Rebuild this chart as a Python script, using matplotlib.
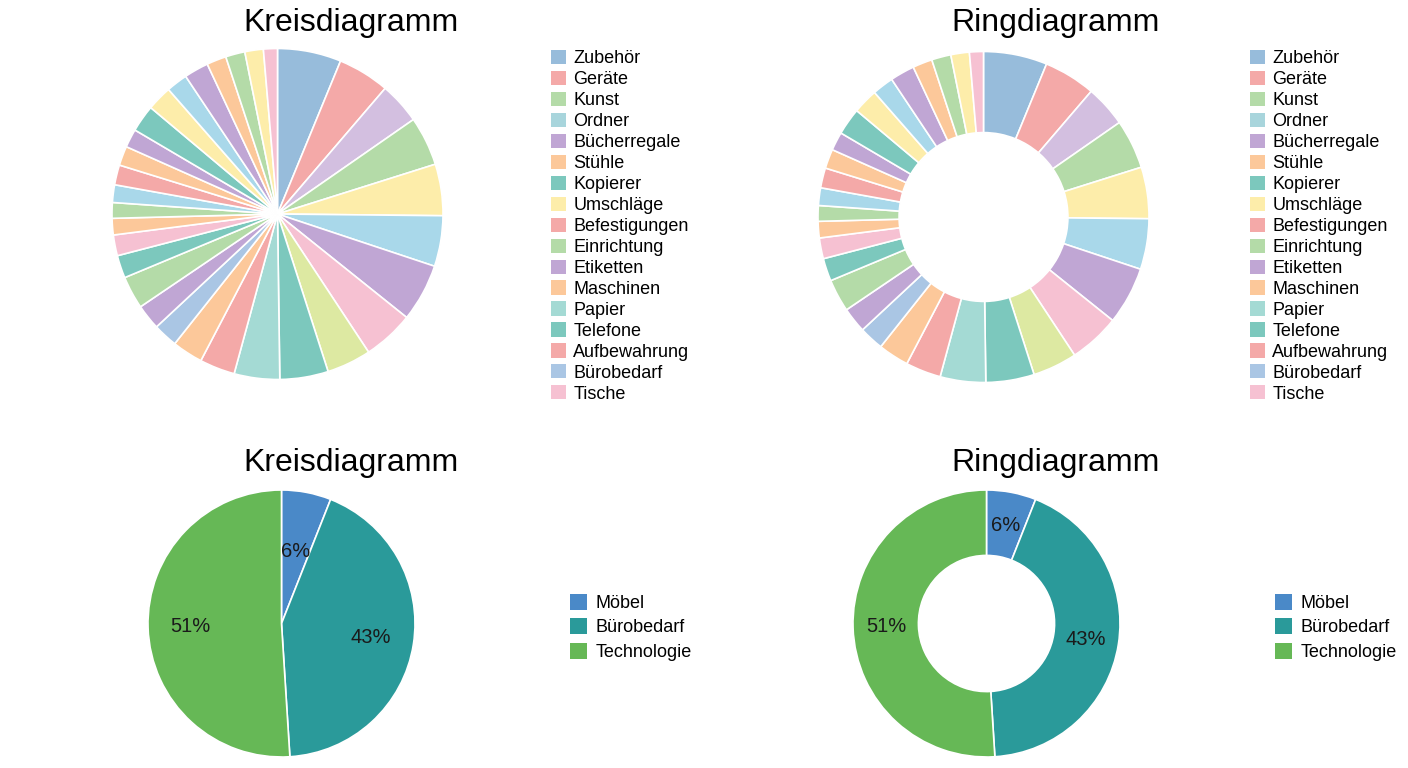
import matplotlib.pyplot as plt
from matplotlib.patches import Patch

plt.rcParams['font.family'] = ['Liberation Sans', 'DejaVu Sans']

# Daten oben: Segmente (Winkel in Grad, im Uhrzeigersinn ab 12 Uhr) und Farben
segment_werte = [22.4, 18.2, 14.6, 17.3, 18.1, 17.8, 20.3, 17.9, 15.6, 17.0, 16.0,
                 12.4, 10.8, 8.6, 8.9, 11.5, 8.0, 7.3, 5.8, 5.5, 6.2, 7.0, 6.8,
                 6.5, 9.5, 8.8, 7.5, 8.6, 6.9, 6.8, 6.5, 4.9]
segment_farben = ['#97bcdb', '#f4a9a8', '#d3bfe0', '#b4dba8', '#fdedaa', '#a9d8ea',
                  '#c0a6d4', '#f6c1d2', '#dde9a2', '#7cc8bd', '#a4dad4', '#f4a9a8',
                  '#fcc89a', '#aac6e4', '#c0a6d4', '#b4dba8', '#7cc8bd', '#f6c1d2',
                  '#fcc89a', '#b4dba8', '#a9d8ea', '#f4a9a8', '#fcc89a', '#c0a6d4',
                  '#7cc8bd', '#fdedaa', '#a9d8ea', '#c0a6d4', '#fcc89a', '#b4dba8',
                  '#fdedaa', '#f6c1d2']

unterkategorien = ['Zubehör', 'Geräte', 'Kunst', 'Ordner', 'Bücherregale', 'Stühle',
                   'Kopierer', 'Umschläge', 'Befestigungen', 'Einrichtung', 'Etiketten',
                   'Maschinen', 'Papier', 'Telefone', 'Aufbewahrung', 'Bürobedarf', 'Tische']
unterkategorie_farben = ['#97bcdb', '#f4a9a8', '#b4dba8', '#a8d5dc', '#c0a6d4', '#fcc89a',
                         '#7cc8bd', '#fdedaa', '#f4a9a8', '#b4dba8', '#c0a6d4', '#fcc89a',
                         '#a4dad4', '#7cc8bd', '#f4a9a8', '#aac6e4', '#f6c1d2']

# Daten unten: Kategorien
kategorien = ['Möbel', 'Bürobedarf', 'Technologie']
kategorie_werte = [6, 43, 51]
kategorie_farben = ['#4a89c8', '#2a9a9a', '#66b856']

W, H = 1408, 768
fig = plt.figure(figsize=(W / 100, H / 100), dpi=100)


def achse(cx, cy, r):
    s = 2 * 1.02 * r
    ax = fig.add_axes([(cx - s / 2) / W, (H - cy - s / 2) / H, s / W, s / H])
    return ax


def fertig(ax):
    ax.set_xlim(-1.02, 1.02)
    ax.set_ylim(-1.02, 1.02)
    ax.set_aspect('equal')
    ax.axis('off')


# oben links: Kreisdiagramm
ax1 = achse(277.5, 214, 165.5)
ax1.pie(segment_werte, colors=segment_farben, startangle=90, counterclock=False,
        wedgeprops=dict(edgecolor='white', linewidth=1.2))
fertig(ax1)

# oben rechts: Ringdiagramm
ax2 = achse(983.5, 217, 165.5)
ax2.pie(segment_werte, colors=segment_farben, startangle=90, counterclock=False,
        wedgeprops=dict(edgecolor='white', linewidth=1.2, width=0.49))
fertig(ax2)

# unten links
ax3 = achse(281.5, 623.5, 133.5)
_, _, txt3 = ax3.pie(kategorie_werte, colors=kategorie_farben, startangle=90, counterclock=False,
                     autopct='%1.0f%%', pctdistance=0.68,
                     wedgeprops=dict(edgecolor='white', linewidth=1.2),
                     textprops=dict(fontsize=14.5, color='#1a1a1a'))
x, y = txt3[0].get_position()
txt3[0].set_position((x * 0.55 / 0.68, y * 0.55 / 0.68))
fertig(ax3)

# unten rechts
ax4 = achse(986.5, 623.5, 133.5)
ax4.pie(kategorie_werte, colors=kategorie_farben, startangle=90, counterclock=False,
        autopct='%1.0f%%', pctdistance=0.75,
        wedgeprops=dict(edgecolor='white', linewidth=1.2, width=0.49),
        textprops=dict(fontsize=14.5, color='#1a1a1a'))
fertig(ax4)

# Titel
for x, y, t in [(351.5, 31, 'Kreisdiagramm'), (1055.5, 31, 'Ringdiagramm'),
                (351.5, 471, 'Kreisdiagramm'), (1055.5, 471, 'Ringdiagramm')]:
    fig.text(x / W, 1 - y / H, t, ha='center', va='baseline', fontsize=23)

# Legenden
h_oben = [Patch(facecolor=c, label=l) for l, c in zip(unterkategorien, unterkategorie_farben)]
h_unten = [Patch(facecolor=c, label=l) for l, c in zip(kategorien, kategorie_farben)]

for lx in [551, 1250]:
    fig.legend(handles=h_oben, loc='upper left', bbox_to_anchor=(lx / W, 1 - 50 / H),
               frameon=False, fontsize=13, borderpad=0, borderaxespad=0,
               handlelength=0.83, handleheight=0.83, handletextpad=0.4, labelspacing=0.2)

for lx in [570, 1275]:
    fig.legend(handles=h_unten, loc='upper left', bbox_to_anchor=(lx / W, 1 - 594 / H),
               frameon=False, fontsize=13, borderpad=0, borderaxespad=0,
               handlelength=0.95, handleheight=0.95, handletextpad=0.45, labelspacing=0.36)

fig.savefig('out.png', dpi=100, facecolor='white')
